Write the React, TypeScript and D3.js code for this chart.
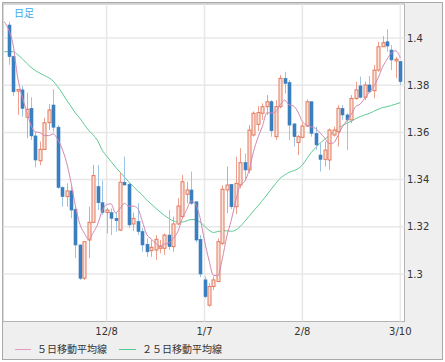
import React from "react";
import * as d3 from "d3";

const opens = [1.4055,1.3921,1.3775,1.378,1.3664,1.3702,1.3585,1.348,1.3528,1.3641,1.3716,1.3622,1.3366,1.3328,1.3352,1.3274,1.3123,1.2982,1.3144,1.3219,1.337,1.3302,1.3261,1.326,1.3236,1.3186,1.3389,1.338,1.3212,1.3222,1.318,1.3126,1.3099,1.3102,1.3109,1.3109,1.3165,1.3116,1.3212,1.3243,1.3338,1.3356,1.3306,1.3147,1.2975,1.2868,1.2947,1.2968,1.313,1.3356,1.338,1.3285,1.3377,1.3472,1.3441,1.3589,1.3634,1.3681,1.3709,1.373,1.3582,1.3709,1.3829,1.3811,1.3636,1.3557,1.3579,1.3627,1.373,1.3596,1.3504,1.3486,1.3483,1.3589,1.3603,1.3702,1.3674,1.3653,1.3744,1.3797,1.3749,1.3801,1.3777,1.3864,1.3963,1.3984,1.3949,1.3903,1.39];
const highs = [1.4069,1.3925,1.3782,1.3797,1.3768,1.3749,1.3602,1.3561,1.3662,1.372,1.3783,1.3631,1.3372,1.3384,1.337,1.3285,1.3125,1.3137,1.3285,1.3462,1.3462,1.3396,1.328,1.3278,1.3264,1.3429,1.3497,1.3389,1.326,1.33,1.3194,1.3151,1.3144,1.3165,1.3144,1.3172,1.3271,1.3243,1.3321,1.342,1.3391,1.3434,1.3306,1.3165,1.299,1.2961,1.2989,1.3151,1.3376,1.3455,1.3381,1.3497,1.3533,1.3511,1.3631,1.3689,1.3711,1.3723,1.3758,1.3737,1.3737,1.3843,1.3857,1.3822,1.3639,1.3589,1.3641,1.374,1.373,1.3624,1.3554,1.3561,1.3617,1.3624,1.3716,1.3716,1.3681,1.3758,1.3815,1.3836,1.3815,1.3839,1.3886,1.3984,1.4008,1.4037,1.397,1.392,1.3903];
const lows = [1.3886,1.3754,1.3674,1.3667,1.3575,1.3568,1.3452,1.3461,1.3525,1.361,1.3603,1.3361,1.3285,1.3285,1.3236,1.3067,1.2975,1.2975,1.3067,1.3215,1.3271,1.325,1.3172,1.3165,1.318,1.3182,1.3377,1.3195,1.3182,1.3165,1.3094,1.3073,1.3073,1.3059,1.3088,1.3081,1.3102,1.3094,1.3207,1.3236,1.33,1.3293,1.3134,1.2986,1.2897,1.2861,1.2932,1.2968,1.3123,1.3257,1.3275,1.3254,1.3363,1.3398,1.3427,1.3582,1.3606,1.3653,1.3674,1.3582,1.3568,1.3702,1.3766,1.3568,1.354,1.3504,1.3575,1.3624,1.3582,1.3525,1.3434,1.3455,1.3441,1.3582,1.354,1.3653,1.3525,1.3639,1.3737,1.3744,1.3737,1.3766,1.3744,1.3857,1.3963,1.3942,1.3864,1.383,1.3801];
const closes = [1.3921,1.3772,1.3782,1.3702,1.3698,1.3585,1.3483,1.3528,1.3641,1.3695,1.3622,1.3367,1.3328,1.3352,1.3271,1.3123,1.2982,1.3137,1.3219,1.3417,1.3302,1.3261,1.3271,1.3236,1.3226,1.3389,1.3377,1.3208,1.3236,1.318,1.3123,1.3094,1.3113,1.3147,1.3116,1.3165,1.3116,1.3212,1.3288,1.3391,1.3356,1.33,1.3144,1.3,1.2904,1.2947,1.2975,1.3137,1.3359,1.3377,1.3285,1.3384,1.3472,1.3441,1.361,1.3681,1.3684,1.3709,1.373,1.3607,1.3709,1.3829,1.3808,1.3631,1.3582,1.3582,1.3627,1.373,1.3596,1.3547,1.3486,1.3525,1.361,1.361,1.3702,1.3674,1.3653,1.3744,1.378,1.3749,1.3801,1.3772,1.3864,1.3963,1.398,1.3966,1.3907,1.391,1.3815];

// 5-day MA values at the left edge (index -1..6)
const ma5Lead = [1.4069, 1.4034, 1.397, 1.3835, 1.3754, 1.3691, 1.3631, 1.3602];
// 25-day MA, index -1..88
const ma25 = [1.3942,1.3942,1.3942,1.393,1.3913,1.3894,1.3876,1.3862,1.3851,1.3841,1.3832,1.3817,1.3794,1.3767,1.3737,1.371,1.3682,1.366,1.3633,1.3608,1.3589,1.3564,1.3525,1.35,1.3477,1.3453,1.3432,1.3411,1.339,1.3371,1.3352,1.3335,1.3314,1.3297,1.328,1.3263,1.3248,1.3235,1.3225,1.322,1.322,1.3225,1.3231,1.3231,1.322,1.3203,1.3186,1.3176,1.318,1.3183,1.3183,1.3181,1.3186,1.3201,1.3222,1.3244,1.3267,1.3288,1.3311,1.3335,1.336,1.3383,1.3406,1.3419,1.3431,1.3437,1.3446,1.3462,1.3489,1.3515,1.3536,1.3555,1.3571,1.3586,1.3602,1.3617,1.3629,1.3639,1.3648,1.3658,1.3667,1.3674,1.368,1.3689,1.3698,1.3705,1.3709,1.3714,1.372,1.3726];

const yTicks = [1.3, 1.32, 1.34, 1.36, 1.38, 1.4];
const yTickLabels = ["1.3", "1.32", "1.34", "1.36", "1.38", "1.4"];
const xTickIdx = [22, 44, 66, 88];
const xTickLabels = ["12/8", "1/7", "2/8", "3/10"];
const legendLabels = ["５日移動平均線", "２５日移動平均線"];
const title = "日足";

const W = 445, H = 362;
const P = { left: 3, top: 4, right: 404.5, bottom: 321.5 };

export default function App() {
  const x = d3.scaleLinear().domain([0, 88]).range([8.7, 400.3]);
  const y = d3.scaleLinear().domain([1.3, 1.4]).range([274, 38]);

  const ma5: [number, number][] = [];
  ma5Lead.forEach((v, k) => ma5.push([k - 1, v]));
  for (let i = ma5Lead.length - 1; i < closes.length; i++) {
    ma5.push([i, d3.mean(closes.slice(i - 4, i + 1)) as number]);
  }
  const ma25Pts: [number, number][] = ma25.map((v, k) => [k - 1, v]);
  const line = d3.line<[number, number]>().x(d => x(d[0])).y(d => y(d[1])).curve(d3.curveMonotoneX);

  const bw = 3;
  const font = "'DejaVu Sans', Verdana, sans-serif";
  const jfont = "'Noto Sans CJK JP', sans-serif";

  return (
    <svg width={W} height={H} style={{ position: "absolute", left: 0, top: 0 }}>
      <defs>
        <clipPath id="plotclip">
          <rect x={P.left} y={P.top} width={P.right - P.left} height={P.bottom - P.top} />
        </clipPath>
      </defs>
      <rect x={0} y={0} width={W} height={H} fill="#ffffff" />
      <rect x={2.5} y={2.5} width={440} height={357} fill="#efefef" stroke="#a8a8a8" />
      <rect x={P.left} y={P.top} width={P.right - P.left} height={P.bottom - P.top} fill="#ffffff" stroke="#b4b4b4" />
      {yTicks.map((t, k) => (
        <line key={"yg" + k} x1={P.left} x2={P.right} y1={y(t)} y2={y(t)} stroke="#e8e8e8" strokeWidth={1.5} />
      ))}
      {xTickIdx.map((t, k) => (
        <line key={"xg" + k} x1={x(t)} x2={x(t)} y1={P.top} y2={P.bottom} stroke="#e8e8e8" strokeWidth={1.5} />
      ))}
      <text x={14} y={16.5} fontFamily={jfont} fontSize={10} fill="#40a8f0">{title}</text>
      <g clipPath="url(#plotclip)">
        <path d={line(ma25Pts) || ""} fill="none" stroke="#5ccb92" strokeWidth={1} />
        {opens.map((o, i) => {
          const c = closes[i];
          const up = c >= o;
          const cx = Math.round(x(i)) + 0.5;
          const top = y(Math.max(o, c));
          const bot = y(Math.min(o, c));
          const h = Math.max(1, bot - top);
          return (
            <g key={i}>
              <line x1={cx} x2={cx} y1={y(highs[i])} y2={y(lows[i])} stroke={up ? "#eea08c" : "#9cc4e4"} strokeWidth={1} />
              {up ? (
                <rect x={cx - 1.5} y={top} width={bw} height={h} fill="#fbe3dc" stroke="#e4785c" strokeWidth={1} />
              ) : (
                <rect x={cx - 1.5} y={top} width={bw} height={h} fill="#3a7fbf" stroke="#3a7fbf" strokeWidth={0.6} />
              )}
            </g>
          );
        })}
        <path d={line(ma5) || ""} fill="none" stroke="#d288b0" strokeWidth={1} />
      </g>
      {yTicks.map((t, k) => (
        <text key={"yl" + k} x={407} y={y(t)} dy="0.36em" fontFamily={font} fontSize={10} fill="#333">{yTickLabels[k]}</text>
      ))}
      {xTickIdx.map((t, k) => (
        <text key={"xl" + k} x={x(t)} y={335} textAnchor="middle" fontFamily={font} fontSize={10} fill="#333">{xTickLabels[k]}</text>
      ))}
      <line x1={15} x2={31} y1={349.5} y2={349.5} stroke="#e29ac0" strokeWidth={1} />
      <text x={37} y={353} fontFamily={jfont} fontSize={10} fill="#333">{legendLabels[0]}</text>
      <line x1={119} x2={136} y1={349.5} y2={349.5} stroke="#5ccb92" strokeWidth={1} />
      <text x={142} y={353} fontFamily={jfont} fontSize={10} fill="#333">{legendLabels[1]}</text>
    </svg>
  );
}
